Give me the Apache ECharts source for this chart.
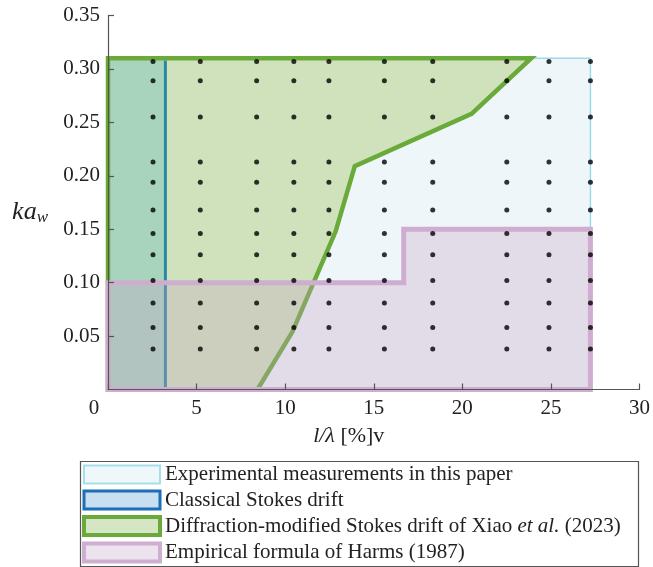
<!DOCTYPE html>
<html>
<head>
<meta charset="utf-8">
<script src="https://cdn.jsdelivr.net/npm/echarts@6/dist/echarts.min.js"></script>
<style>
  html, body { margin: 0; padding: 0; background: #fff; }
  #chart { width: 653px; height: 567px; }
</style>
</head>
<body>
<div id="chart"></div>
<script>
// Tested conditions: relative length l/λ [%] and wave steepness ka_w
const lambdaRatio = [2.54, 5.21, 8.39, 10.49, 12.47, 15.60, 18.33, 22.51, 24.89, 27.23];
const steepness = [0.307, 0.289, 0.255, 0.213, 0.194, 0.168, 0.146, 0.126, 0.102, 0.081, 0.058, 0.038];

// Validity regions, vertices as [l/λ, ka_w]
const experimentalRegion = [[0, 0], [0, 0.31], [27.23, 0.31], [27.23, 0]];
const classicalRegion = [[0, 0], [0, 0.31], [3.24, 0.31], [3.24, 0]];
const classicalEdge = [[3.24, 0.308], [3.24, 0]];
const diffractionRegion = [[0, 0], [0, 0.31], [23.89, 0.31], [20.52, 0.258], [13.93, 0.209],
                           [12.85, 0.148], [10.41, 0.054], [8.44, 0]];
const harmsRegion = [[0, 0], [0, 0.10], [16.69, 0.10], [16.69, 0.15], [27.23, 0.15], [27.23, 0]];

const seriesNames = [
  'Experimental measurements in this paper',
  'Classical Stokes drift',
  'Diffraction-modified Stokes drift of Xiao et al. (2023)',
  'Empirical formula of Harms (1987)'
];

const SERIF = '"Liberation Serif", "DejaVu Serif", serif';

// Custom series drawing a filled polygon and/or an outline through the axis scales
function regionSeries(name, pts, opts) {
  return {
    type: 'custom',
    name: name,
    z: opts.z,
    silent: true,
    coordinateSystem: 'cartesian2d',
    data: [pts[0]],
    renderItem: function (params, api) {
      const coords = pts.map(p => api.coord(p));
      const children = [];
      if (opts.fill) {
        children.push({
          type: 'polygon',
          shape: { points: coords },
          style: { fill: opts.fill, stroke: null }
        });
      }
      if (opts.stroke) {
        const edge = opts.edge ? opts.edge.map(p => api.coord(p)) : coords;
        children.push({
          type: opts.edge ? 'polyline' : 'polygon',
          shape: { points: edge },
          style: { fill: null, stroke: opts.stroke, lineWidth: opts.width, lineJoin: 'miter' }
        });
      }
      return { type: 'group', children: children };
    }
  };
}

const dots = [];
lambdaRatio.forEach(x => steepness.forEach(y => dots.push([x, y])));

const chart = echarts.init(document.getElementById('chart'), null, { renderer: 'canvas' });

chart.setOption({
  animation: false,
  backgroundColor: '#fff',
  grid: { left: 108, right: 11, top: 15.5, bottom: 177.5 },
  xAxis: {
    type: 'value', min: 0, max: 30, interval: 5, z: 8,
    name: '{i|l/λ} [%]v',
    nameLocation: 'middle', nameGap: 36,
    nameTextStyle: {
      fontFamily: SERIF, fontSize: 22, color: '#222', padding: [0, 50, 0, 0],
      rich: { i: { fontFamily: SERIF, fontSize: 22, fontStyle: 'italic', color: '#222' } }
    },
    axisLine: { lineStyle: { color: '#555', width: 1.2 } },
    axisTick: { inside: true, length: 6, lineStyle: { color: '#555', width: 1.2 } },
    splitLine: { show: false },
    axisLabel: {
      fontFamily: SERIF, fontSize: 21, color: '#222', margin: 8,
      formatter: v => (v === 0 ? '{o|0}' : String(v)),
      rich: { o: { fontFamily: SERIF, fontSize: 21, color: '#222', padding: [0, 28, 0, 0] } }
    }
  },
  yAxis: {
    type: 'value', min: 0, max: 0.35, interval: 0.05, z: 8,
    name: '{k|ka}{w|w}',
    nameLocation: 'middle', nameRotate: 0, nameGap: 60,
    nameTextStyle: {
      padding: [19, 0, 0, 0],
      rich: {
        k: { fontFamily: SERIF, fontSize: 26, fontStyle: 'italic', color: '#222', lineHeight: 28, verticalAlign: 'middle' },
        w: { fontFamily: SERIF, fontSize: 17, fontStyle: 'italic', color: '#222', lineHeight: 17, verticalAlign: 'bottom' }
      }
    },
    axisLine: { lineStyle: { color: '#555', width: 1.2 } },
    axisTick: { inside: true, length: 6, lineStyle: { color: '#555', width: 1.2 } },
    splitLine: { show: false },
    axisLabel: {
      showMinLabel: false,
      fontFamily: SERIF, fontSize: 21, color: '#222', margin: 8,
      formatter: v => v.toFixed(2)
    }
  },
  legend: {
    orient: 'vertical', left: 82, top: 464, height: 103, padding: 0,
    itemWidth: 76, itemHeight: 18, itemGap: 4.5, icon: 'rect',
    selectedMode: false,
    textStyle: {
      fontFamily: SERIF, fontSize: 21, color: '#222', lineHeight: 18,
      rich: { i: { fontFamily: SERIF, fontSize: 21, fontStyle: 'italic', color: '#222', lineHeight: 18 } }
    },
    formatter: name => (name === seriesNames[2]
      ? 'Diffraction-modified Stokes drift of Xiao {i|et al.} (2023)' : name),
    data: [
      { name: seriesNames[0], itemStyle: { color: '#eef8fb', borderColor: '#a3e0ea', borderWidth: 2 } },
      { name: seriesNames[1], itemStyle: { color: '#c9def0', borderColor: '#1b6fb7', borderWidth: 3 } },
      { name: seriesNames[2], itemStyle: { color: '#d4e6c3', borderColor: '#6aaa3a', borderWidth: 4 } },
      { name: seriesNames[3], itemStyle: { color: '#ede3ef', borderColor: '#cdb0cf', borderWidth: 4 } }
    ]
  },
  graphic: [{
    type: 'rect', left: 78, top: 459, z: 0, silent: true,
    shape: { width: 558, height: 105 },
    style: { fill: null, stroke: '#555', lineWidth: 1.2 }
  }],
  series: [
    regionSeries(seriesNames[0], experimentalRegion, { z: 1, fill: '#eef6fa', stroke: '#9cdce8', width: 1.5 }),
    regionSeries(seriesNames[2], diffractionRegion, { z: 2, fill: '#cfe2bc' }),
    regionSeries(seriesNames[1], classicalRegion, { z: 3, fill: 'rgba(80,179,191,0.3)' }),
    regionSeries('', classicalRegion, { z: 3.5, stroke: '#2a88a6', width: 3, edge: classicalEdge }),
    regionSeries('', diffractionRegion, { z: 4, stroke: '#6aaa3a', width: 4.5 }),
    regionSeries(seriesNames[3], harmsRegion, { z: 5, fill: 'rgba(198,159,197,0.3)', stroke: '#cfadd0', width: 5 }),
    {
      type: 'scatter', z: 6, silent: true,
      symbol: 'circle', symbolSize: 5,
      itemStyle: { color: '#000' },
      data: dots
    }
  ]
});
</script>
</body>
</html>
